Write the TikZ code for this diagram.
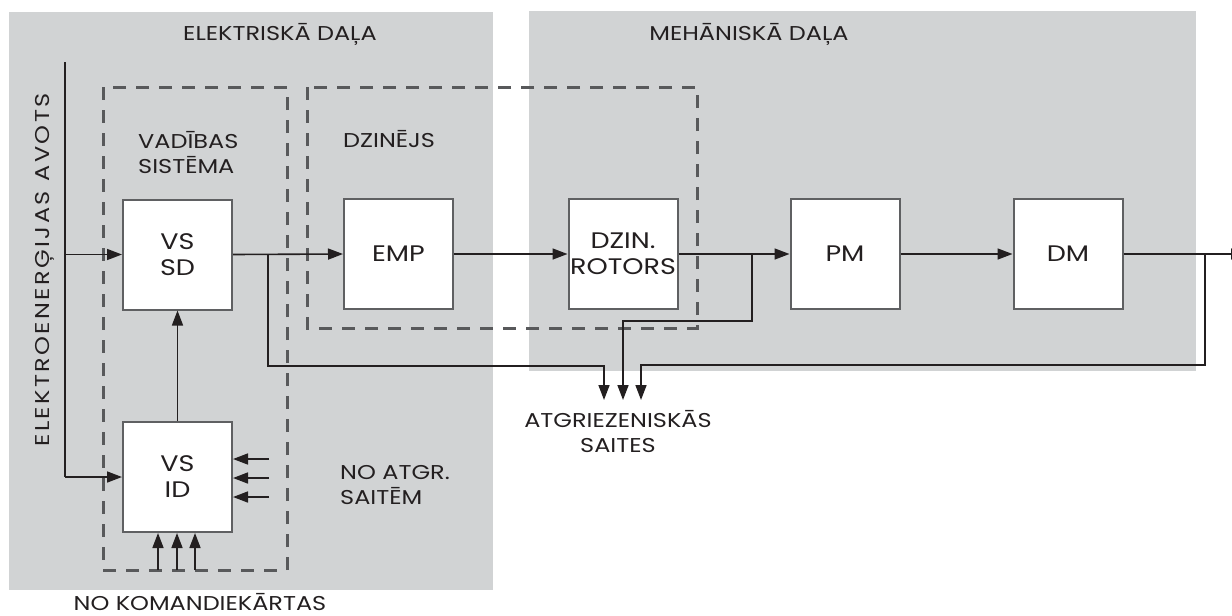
\documentclass[tikz,border=0pt]{standalone}
\usepackage{fontspec}
\setmainfont{Poppins}[FakeStretch=1.2]
\newfontfamily\spacedfont{Poppins}[FakeStretch=1.2, LetterSpace=12]
\usetikzlibrary{arrows.meta}
\definecolor{panel}{HTML}{D1D3D4}
\definecolor{ink}{HTML}{231F20}
\definecolor{frame}{HTML}{5F6062}
\definecolor{dashgray}{HTML}{58595B}
\tikzset{
  panelbox/.style={fill=panel, draw=none},
  block/.style={draw=frame, line width=2pt, fill=white, minimum width=109pt, minimum height=110pt,
    inner sep=0pt, align=center, text=ink, font=\fontsize{22.5}{26}\selectfont},
  groupbox/.style={draw=dashgray, line width=3pt, dash pattern=on 13pt off 10pt},
  wire/.style={draw=ink, line width=1.6pt},
  flow/.style={wire, -{Triangle[length=15pt,width=11pt]}},
  caption/.style={text=ink, font=\fontsize{20}{25}\selectfont, inner sep=0pt},
}
\begin{document}
\begin{tikzpicture}[x=1pt, y=-1pt]
\useasboundingbox (0,0) rectangle (1232,616);
% background areas
\fill[panelbox] (9,12) rectangle (493,590);
\fill[panelbox] (529,11) rectangle (1196,371);
\node[caption, anchor=base] (elec) at (280,40) {ELEKTRISKĀ DAĻA};
\node[caption, anchor=base] (mech) at (749,40) {MEHĀNISKĀ DAĻA};
% dashed groups
\draw[groupbox] (103,87) rectangle (287,570);
\draw[groupbox] (307,87) rectangle (697,328);
% multi-line captions are placed by the baseline of their last line
\node[caption, align=left, anchor=base west] (ctrl) at (138,173) {VADĪBAS\\SISTĒMA};
\node[caption, anchor=base west] (drv) at (343,147) {DZINĒJS};
% blocks
\node[block] (vssd) at (177.5,254.5) {VS\\SD};
\node[block] (vsid) at (177.5,477) {VS\\ID};
\node[block] (emp) at (398.5,254) {EMP};
\node[block] (rot) at (623,254) {DZIN.\\ROTORS};
\node[block] (pm) at (845,254) {PM};
\node[block] (dm) at (1068,254) {DM};
% supply
\node[caption, rotate=90] (src) at (45,270) {\spacedfont ELEKTROENERĢIJAS\hspace{10pt}AVOTS};
\coordinate (srctop) at (65,62);
\coordinate (srcmid) at (65,254.5);
\coordinate (srcbot) at (65,477);
\draw[wire] (srctop) -- (srcbot);
\draw[flow] (srcmid) -- (vssd.west);
\draw[flow] (srcbot) -- (vsid.west);
\draw[flow] (vsid.north) -- (vssd.south);
% external inputs of VS ID
\foreach \i/\y in {1/459,2/478,3/497}{
  \coordinate (fbin\i) at (269,\y);
  \draw[flow] (fbin\i) -- (fbin\i -| vsid.east);
}
\foreach \i/\x in {1/158,2/177,3/195}{
  \coordinate (cmd\i) at (\x,570);
  \draw[flow] (cmd\i) -- (cmd\i |- vsid.south);
}
\node[caption, align=left, anchor=base west] (fbtxt) at (340,504) {NO ATGR.\\SAITĒM};
\node[caption, anchor=base] (cmdtxt) at (200,610) {NO KOMANDIEKĀRTAS};
% main chain
\draw[flow] (vssd.east) -- (emp.west);
\draw[flow] (emp.east) -- (rot.west);
\draw[flow] (rot.east) -- (pm.west);
\draw[flow] (pm.east) -- (dm.west);
\coordinate (out) at (1246,254);
\draw[flow] (dm.east) -- (out);
% feedback paths
\coordinate (fa) at (268,254);
\coordinate (fb) at (752,254);
\coordinate (fc) at (1205,254);
\coordinate (ta) at (604,400);
\coordinate (tb) at (623,400);
\coordinate (tc) at (641,400);
\draw[flow] (fa) |- (604,366) -- (ta);
\draw[flow] (fb) |- (623,321) -- (tb);
\draw[flow] (fc) |- (641,365) -- (tc);
\node[caption, align=center, anchor=base] (fbout) at (618,452) {ATGRIEZENISKĀS\\SAITES};
\end{tikzpicture}
\end{document}
